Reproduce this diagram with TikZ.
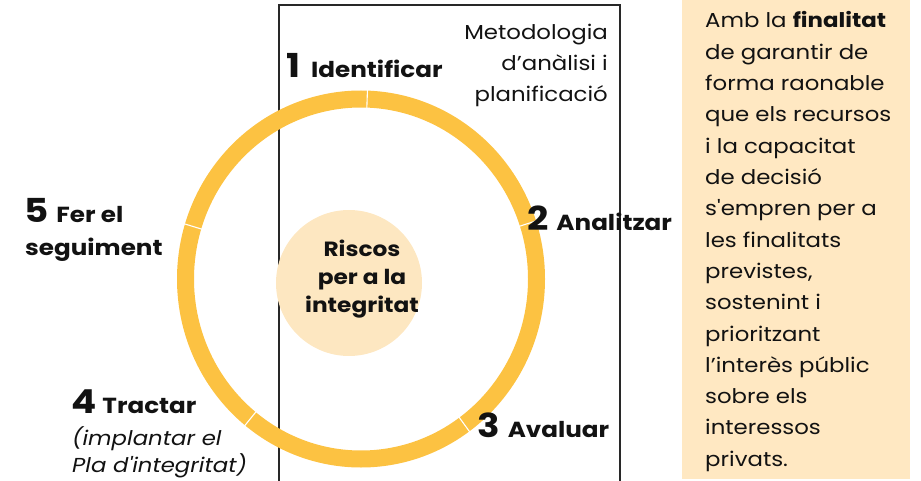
\documentclass[tikz,border=0pt]{standalone}
\usepackage{fontspec}
\newfontfamily\pop{Poppins}[FakeStretch=1.13]
\usetikzlibrary{calc}
\definecolor{ringc}{RGB}{252,194,66}
\definecolor{innerc}{RGB}{253,231,193}
\definecolor{boxc}{RGB}{255,232,194}
\definecolor{txt}{RGB}{18,18,18}
\definecolor{framec}{RGB}{40,40,40}
\tikzset{
  body/.style={inner sep=0pt, text=txt, font=\pop\fontsize{20.2}{24}\selectfont},
  lab/.style={inner sep=0pt, text=txt, font=\pop\bfseries\fontsize{21.8}{24}\selectfont},
  ctr/.style={inner sep=0pt, text=txt, font=\pop\bfseries\fontsize{20.6}{24}\selectfont},
  ital/.style={inner sep=0pt, text=txt, font=\pop\itshape\fontsize{20.2}{24}\selectfont},
}
\newcommand{\dig}[2][0pt]{{\fontsize{33}{33}\selectfont #2}\hspace{\dimexpr 8pt+#1\relax}}
\begin{document}
\begin{tikzpicture}[x=1pt,y=-1pt]
\useasboundingbox (0,0) rectangle (921,481);
% beige box
\fill[boxc] (682,0) rectangle (910,479);
% frame
\draw[framec, line width=1.3pt] (279,485) -- (279,5) -- (620,5) -- (620,485);
% ring
\coordinate (c) at (361,279);
\draw[ringc, line width=17pt] (c) ellipse [x radius=175.5pt, y radius=180pt];
\foreach \a in {88,18,-54,-129,163}
  \draw[white, line width=1.1pt] ($(c)+({165*cos(\a)},{-169*sin(\a)})$) -- ($(c)+({187*cos(\a)},{-191*sin(\a)})$);
% inner circle
\fill[innerc] (349,283) circle[radius=73pt];
\node[ctr, anchor=base] (r1) at (362,257) {Riscos};
\node[ctr, anchor=base] (r2) at (362,284.5) {per a la};
\node[ctr, anchor=base] (r3) at (362,312) {integritat};
% step labels
\node[lab, anchor=base west] (s1) at (286,78) {\dig[3pt]{1}Identificar};
\node[lab, anchor=base west] (s2) at (527,230) {\dig{2}Analitzar};
\node[lab, anchor=base west] (s3) at (477,437) {\dig{3}Avaluar};
\node[lab, anchor=base west] (s4) at (71,413) {\dig[-2pt]{4}Tractar};
\node[ital, anchor=base west] (s4a) at (72,445) {(implantar el};
\node[ital, anchor=base west] (s4b) at (72,472) {Pla d'integritat)};
\node[lab, anchor=base west] (s5) at (24,223) {\dig{5}Fer el};
\node[lab, anchor=base west] (s5a) at (25,255) {seguiment};
% methodology
\node[body, anchor=base east] (m1) at (608,40) {Metodologia};
\node[body, anchor=base east] (m2) at (608,71) {d’anàlisi i};
\node[body, anchor=base east] (m3) at (608,102) {planificació};
% box text
\foreach \t [count=\i from 0] in {Amb la \textbf{finalitat}, de garantir de, forma raonable, que els recursos, i la capacitat, de decisió, s'empren per a, les finalitats, {previstes,}, sostenint i, prioritzant, l’interès públic, sobre els, interessos, privats.}
  \node[body, anchor=base west] (b\i) at (705,{28+31.3*\i}) {\t};
\end{tikzpicture}
\end{document}
